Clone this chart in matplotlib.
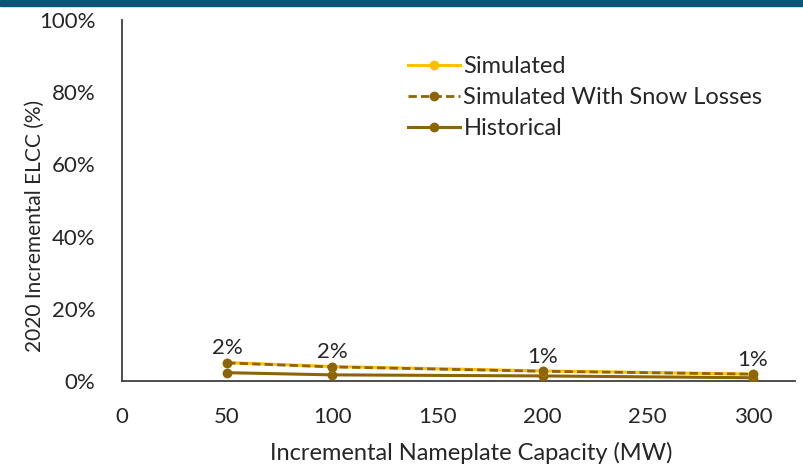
import matplotlib
matplotlib.use("Agg")
import matplotlib.pyplot as plt
from matplotlib.ticker import FuncFormatter

capacity = [50, 100, 200, 300]
simulated = [5.1, 4.0, 2.8, 1.9]
simulated_snow = [5.0, 3.9, 2.7, 1.9]
historical = [2.3, 1.7, 1.4, 0.9]
data_labels = ["2%", "2%", "1%", "1%"]
x_ticks = [0, 50, 100, 150, 200, 250, 300]
y_ticks = [0, 20, 40, 60, 80, 100]

plt.rcParams['font.family'] = ['Lato', 'DejaVu Sans']
FS = 16
TXT = '#262626'

fig = plt.figure(figsize=(8.04, 4.66), dpi=100)
fig.patches.append(plt.Rectangle((0, 1 - 6/466), 1, 6/466, transform=fig.transFigure,
                                 color='#0D5479', zorder=0))
ax = fig.add_axes([122/804, 1 - 381/466, (795 - 122)/804, (381 - 20)/466])

gold = '#FFC000'
brown = '#8C6508'
ax.plot(capacity, historical, color=brown, lw=2.2, marker='o', ms=6, label='Historical', zorder=3)
ax.plot(capacity, simulated, color=gold, lw=2.2, marker='o', ms=6, label='Simulated', zorder=4)
ax.plot(capacity, simulated_snow, color=brown, lw=2.0, ls=(0, (3, 1.5)), marker='o', ms=6,
        label='Simulated With Snow Losses', zorder=5)

for xv, yv, t in zip(capacity, simulated, data_labels):
    ax.annotate(t, (xv, yv), xytext=(0, 3), textcoords='offset points', ha='center', va='bottom',
                fontsize=FS, color=TXT)

ax.set_xlim(0, 320)
ax.set_ylim(0, 100)
ax.set_xticks(x_ticks)
ax.set_yticks(y_ticks)
ax.yaxis.set_major_formatter(FuncFormatter(lambda v, p: f"{int(v)}%"))
ax.tick_params(length=0, labelsize=FS, colors=TXT, pad=19)
ax.tick_params(axis='x', pad=19)
for s in ['top', 'right']:
    ax.spines[s].set_visible(False)
for s in ['left', 'bottom']:
    ax.spines[s].set_color('#404040')
    ax.spines[s].set_linewidth(1.3)

fig.text(471/804, 1 - 453/466, 'Incremental Nameplate Capacity (MW)', fontsize=17, color=TXT,
         ha='center', va='center')
fig.text(35/804, 1 - 226/466, '2020 Incremental ELCC (%)', fontsize=15, color=TXT,
         ha='center', va='center', rotation=90)

h, l = ax.get_legend_handles_labels()
order = [1, 2, 0]
leg = ax.legend([h[i] for i in order], [l[i] for i in order], loc='upper left',
                bbox_to_anchor=(408/804, 1 - 56/466), bbox_transform=fig.transFigure,
                frameon=False, fontsize=17, handlelength=2.2, handletextpad=0.15,
                labelspacing=0.42, borderaxespad=0, borderpad=0)
for t in leg.get_texts():
    t.set_color(TXT)

fig.savefig('out.png', dpi=100)
